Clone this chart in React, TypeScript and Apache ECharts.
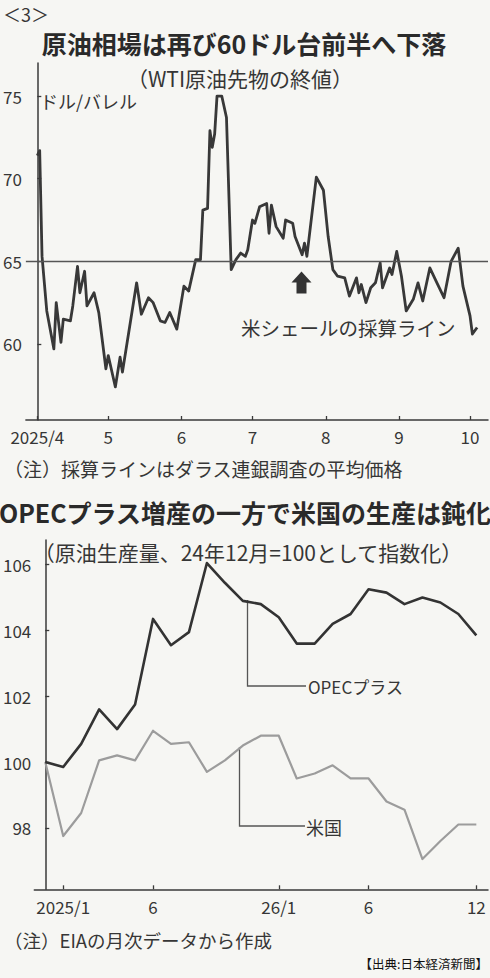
import React, { useEffect, useRef } from "react";
import * as echarts from "echarts";

// ---------- Data: WTI crude futures close (USD/bbl) ----------
const wtiDates = [
  "2025-04-01", "2025-04-02", "2025-04-03", "2025-04-05", "2025-04-08", "2025-04-09",
  "2025-04-11", "2025-04-12", "2025-04-15", "2025-04-16", "2025-04-18", "2025-04-19",
  "2025-04-21", "2025-04-22", "2025-04-25", "2025-04-27", "2025-04-30", "2025-05-01",
  "2025-05-04", "2025-05-06", "2025-05-07", "2025-05-13", "2025-05-15", "2025-05-18",
  "2025-05-20", "2025-05-23", "2025-05-25", "2025-05-27", "2025-05-30", "2025-06-02",
  "2025-06-04", "2025-06-07", "2025-06-09", "2025-06-10", "2025-06-12", "2025-06-13",
  "2025-06-14", "2025-06-15", "2025-06-16", "2025-06-18", "2025-06-20", "2025-06-22",
  "2025-06-24", "2025-06-26", "2025-06-28", "2025-06-29", "2025-07-01", "2025-07-02",
  "2025-07-04", "2025-07-07", "2025-07-08", "2025-07-09", "2025-07-11", "2025-07-14",
  "2025-07-15", "2025-07-18", "2025-07-19", "2025-07-22", "2025-07-23", "2025-07-24",
  "2025-07-28", "2025-07-31", "2025-08-02", "2025-08-04", "2025-08-06", "2025-08-09",
  "2025-08-11", "2025-08-14", "2025-08-15", "2025-08-16", "2025-08-18", "2025-08-20",
  "2025-08-22", "2025-08-24", "2025-08-25", "2025-08-28", "2025-08-29", "2025-08-31",
  "2025-09-02", "2025-09-04", "2025-09-07", "2025-09-09", "2025-09-11", "2025-09-14",
  "2025-09-17", "2025-09-20", "2025-09-23", "2025-09-26", "2025-09-28", "2025-10-01",
  "2025-10-02", "2025-10-04",
];
const wtiValues = [
  71.4, 71.7, 65.3, 62.0, 59.7, 62.5,
  60.1, 61.5, 61.4, 62.3, 64.7, 63.1,
  64.4, 62.3, 63.1, 61.9, 58.5, 59.3,
  57.4, 59.2, 58.3, 63.7, 61.8, 62.8,
  62.5, 61.4, 61.3, 61.9, 60.9, 63.5,
  63.2, 65.1, 65.1, 68.1, 68.2, 72.9,
  71.9, 72.7, 75.0, 75.0, 73.7, 64.5,
  65.1, 65.5, 65.3, 65.7, 67.5, 67.3,
  68.3, 68.5, 66.7, 68.4, 67.1, 66.4,
  67.5, 67.3, 66.5, 65.4, 66.1, 65.3,
  70.1, 69.3, 66.5, 64.5, 64.1, 64.0,
  62.9, 64.0, 63.1, 63.6, 62.5, 63.4,
  63.7, 64.9, 63.4, 64.6, 64.2, 65.6,
  64.1, 62.0, 62.7, 63.7, 62.6, 64.6,
  63.7, 62.8, 65.0, 65.8, 63.5, 61.7,
  60.6, 61.0,
];
const shaleBreakEven = 65;
const wtiTickDates = ["2025-04-01", "2025-05-01", "2025-06-01", "2025-07-01", "2025-08-01", "2025-09-01", "2025-10-01"];
const wtiTickLabels = ["2025/4", "5", "6", "7", "8", "9", "10"];
const wtiYTicks = [60, 65, 70, 75];

// ---------- Data: crude production index (Dec 2024 = 100) ----------
const prodMonths = [
  "2024-12",
  "2025-01", "2025-02", "2025-03", "2025-04", "2025-05", "2025-06",
  "2025-07", "2025-08", "2025-09", "2025-10", "2025-11", "2025-12",
  "2026-01", "2026-02", "2026-03", "2026-04", "2026-05", "2026-06",
  "2026-07", "2026-08", "2026-09", "2026-10", "2026-11", "2026-12",
];
const opecValues = [
  100.0,
  99.85, 100.55, 101.6, 101.0, 101.75, 104.35,
  103.55, 103.95, 106.05, 105.45, 104.9, 104.8,
  104.4, 103.6, 103.6, 104.2, 104.5, 105.25,
  105.15, 104.8, 105.0, 104.85, 104.5, 103.85,
];
const usValues = [
  100.0,
  97.75, 98.45, 100.05, 100.2, 100.05, 100.95,
  100.55, 100.6, 99.7, 100.05, 100.5, 100.8,
  100.8, 99.5, 99.65, 99.9, 99.5, 99.5,
  98.8, 98.55, 97.05, 97.6, 98.1, 98.1,
];
const prodTickMonths = ["2025-01", "2025-06", "2026-01", "2026-06", "2026-12"];
const prodTickLabels = ["2025/1", "6", "26/1", "6", "12"];
const prodYTicks = [98, 100, 102, 104, 106];

// ---------- helpers ----------
const BASE = Date.UTC(2025, 3, 1);
const dayNum = (s: string) => {
  const [y, m, d] = s.split("-").map(Number);
  return (Date.UTC(y, m - 1, d) - BASE) / 86400000;
};
const monthIdx = (s: string) => prodMonths.indexOf(s);

const FONT = "'Noto Sans CJK JP', 'Noto Sans', sans-serif";
const TXT = "#363636";
const AXIS = "#3a3a3a";
const BG = "#f6f6f3";

export default function App() {
  const ref = useRef<HTMLDivElement>(null);

  useEffect(() => {
    if (!ref.current) return;
    const chart = echarts.init(ref.current, null, { renderer: "svg" });

    const wtiData = wtiDates.map((d, i) => [dayNum(d), wtiValues[i]]);
    const opecData = prodMonths.map((m, i) => [i, opecValues[i]]);
    const usData = prodMonths.map((m, i) => [i, usValues[i]]);

    const wtiTickVals = wtiTickDates.map(dayNum);
    const wtiLabelMap = new Map<number, string>();
    wtiTickVals.forEach((v, i) => wtiLabelMap.set(v, wtiTickLabels[i]));

    const prodTickVals = prodTickMonths.map(monthIdx);
    const prodLabelMap = new Map<number, string>();
    prodTickVals.forEach((v, i) => prodLabelMap.set(v, prodTickLabels[i]));

    const axisLine = { show: true, lineStyle: { color: AXIS, width: 1.5 } };
    const tickStyle = { lineStyle: { color: AXIS, width: 1.3 } };
    const labelBase = { color: TXT, fontSize: 17, fontFamily: FONT };

    const text = (t: string, x: number, y: number, size: number, opts: any = {}) => ({
      type: "text",
      x,
      y,
      silent: true,
      style: {
        text: t,
        fontSize: size,
        fontFamily: FONT,
        fontWeight: opts.weight || "normal",
        fill: opts.fill || TXT,
        align: opts.align || "left",
        verticalAlign: "middle",
      },
    });

    chart.setOption({
      animation: false,
      backgroundColor: BG,
      grid: [
        { left: 23.5, top: 63, width: 464.5, height: 357, containLabel: false },
        { left: 33, top: 540, width: 455, height: 349.3, containLabel: false },
      ],
      xAxis: [
        {
          type: "value",
          gridIndex: 0,
          min: -4.84,
          max: 190.6,
          axisLine,
          axisTick: { show: true, inside: true, length: 4, customValues: wtiTickVals, ...tickStyle },
          axisLabel: {
            ...labelBase,
            margin: 8,
            customValues: wtiTickVals,
            formatter: (v: number) => wtiLabelMap.get(v) ?? "",
          },
          splitLine: { show: false },
        },
        {
          type: "value",
          gridIndex: 1,
          min: -0.61,
          max: 24.65,
          axisLine,
          axisTick: { show: true, inside: true, length: 4, customValues: prodTickVals, ...tickStyle },
          axisLabel: {
            ...labelBase,
            margin: 9,
            customValues: prodTickVals,
            formatter: (v: number) => prodLabelMap.get(v) ?? "",
          },
          splitLine: { show: false },
        },
      ],
      yAxis: [
        {
          type: "value",
          gridIndex: 0,
          min: 55.4,
          max: 77.0,
          axisLine,
          axisTick: { show: true, inside: true, length: 4, customValues: wtiYTicks, ...tickStyle },
          axisLabel: { ...labelBase, margin: 4, customValues: wtiYTicks },
          splitLine: { show: false },
        },
        {
          type: "value",
          gridIndex: 1,
          min: 96.13,
          max: 106.75,
          axisLine,
          axisTick: { show: true, inside: true, length: 4, customValues: prodYTicks, ...tickStyle },
          axisLabel: { ...labelBase, margin: 3, customValues: prodYTicks },
          splitLine: { show: false },
        },
      ],
      series: [
        {
          type: "line",
          xAxisIndex: 0,
          yAxisIndex: 0,
          data: wtiData,
          showSymbol: false,
          lineStyle: { color: "#383838", width: 2.8, join: "round" },
          markLine: {
            silent: true,
            symbol: ["none", "none"],
            label: { show: false },
            lineStyle: { color: "#555", width: 1.3, type: "solid" },
            data: [{ yAxis: shaleBreakEven }],
          },
          z: 3,
        },
        {
          type: "line",
          xAxisIndex: 1,
          yAxisIndex: 1,
          data: usData,
          showSymbol: false,
          lineStyle: { color: "#9c9c9c", width: 2.2, join: "round" },
          z: 2,
        },
        {
          type: "line",
          xAxisIndex: 1,
          yAxisIndex: 1,
          data: opecData,
          showSymbol: false,
          lineStyle: { color: "#333", width: 2.6, join: "round" },
          z: 3,
        },
      ],
      graphic: [
        text("＜3＞", 3, 14, 18),
        text("原油相場は再び60ドル台前半へ下落", 244, 43, 25, { weight: "bold", align: "center", fill: "#2a2a2a" }),
        text("（WTI原油先物の終値）", 240, 78, 21, { align: "center" }),
        text("ドル/バレル", 40, 101, 18),
        {
          type: "polygon",
          silent: true,
          shape: {
            points: [
              [301.5, 271.5], [311.5, 282.5], [306.5, 282.5], [306.5, 293.5],
              [296.5, 293.5], [296.5, 282.5], [291.5, 282.5],
            ],
          },
          style: { fill: "#333" },
        },
        text("米シェールの採算ライン", 241, 327, 19.5),
        text("（注）採算ラインはダラス連銀調査の平均価格", 4, 468, 19),
        text("OPECプラス増産の一方で米国の生産は鈍化", 245, 512, 25, { weight: "bold", align: "center", fill: "#2a2a2a" }),
        text("（原油生産量、24年12月=100として指数化）", 248, 552, 21, { align: "center" }),
        {
          type: "polyline",
          silent: true,
          shape: { points: [[247.5, 600], [247.5, 686], [306, 686]] },
          style: { stroke: "#555", lineWidth: 1.3, fill: "none" },
        },
        text("OPECプラス", 308, 686, 17),
        {
          type: "polyline",
          silent: true,
          shape: { points: [[239.5, 747], [239.5, 826], [305, 826]] },
          style: { stroke: "#555", lineWidth: 1.3, fill: "none" },
        },
        text("米国", 306, 827, 18),
        text("（注）EIAの月次データから作成", 4, 940, 18.5),
        text("【出典:日本経済新聞】", 488, 963, 12.5, { align: "right", fill: "#111" }),
      ],
    });

    return () => chart.dispose();
  }, []);

  return (
    <div
      ref={ref}
      style={{ position: "absolute", left: 0, top: 0, width: 490, height: 978, background: BG }}
    />
  );
}
